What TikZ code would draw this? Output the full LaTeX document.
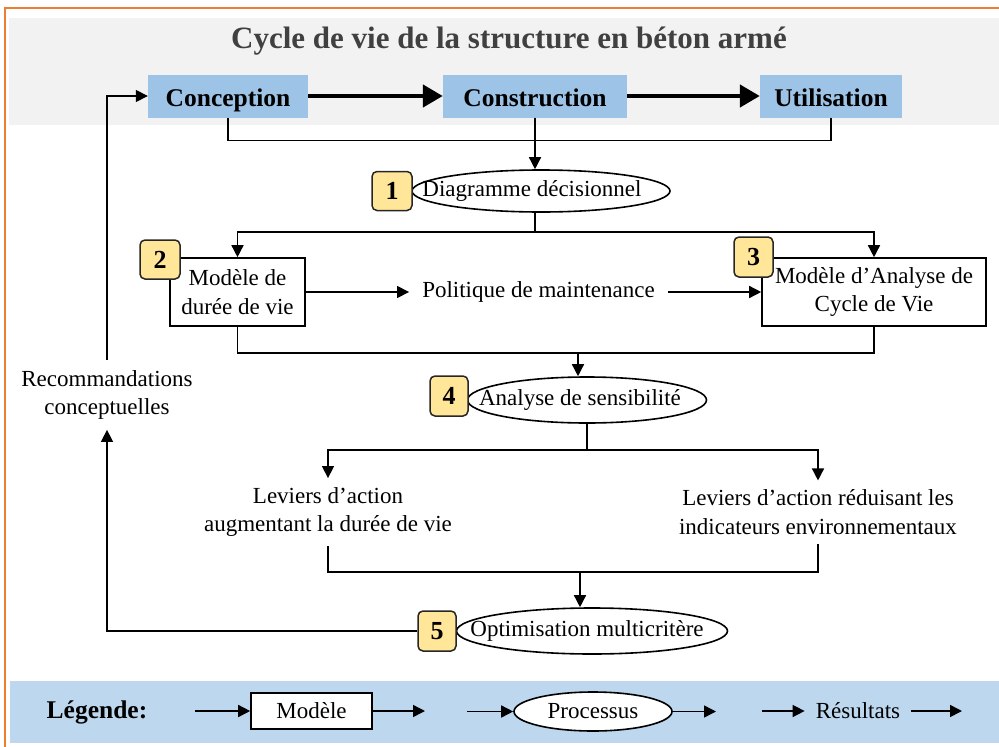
\documentclass[tikz,border=0pt]{standalone}
\usepackage{fontspec}
\setmainfont{Liberation Serif}
\usetikzlibrary{arrows.meta, positioning, shapes.geometric, calc}
\definecolor{framecol}{HTML}{ED7D31}
\definecolor{headgrey}{HTML}{F2F2F2}
\definecolor{phasecol}{HTML}{9DC3E6}
\definecolor{badgecol}{HTML}{FFE699}
\definecolor{legendcol}{HTML}{BDD7EE}
\definecolor{titlecol}{HTML}{404040}
\tikzset{
  txt/.style={font=\fontsize{23}{28.5}\selectfont, align=center},
  phase/.style={fill=phasecol, font=\fontsize{25.5}{30}\selectfont\bfseries,
    minimum height=43pt, inner sep=0pt, text height=21pt, text depth=1pt},
  model/.style={txt, draw, line width=1.6pt, fill=white, inner sep=0pt},
  process/.style={txt, ellipse, draw, line width=1.6pt, fill=white,
    inner xsep=-50pt, inner ysep=-10pt},
  badge/.style={draw=black!85, fill=badgecol, line width=1.5pt, rounded corners=5pt,
    font=\fontsize{26}{28}\selectfont\bfseries, inner sep=0pt},
  line/.style={line width=1.5pt},
  link/.style={line width=1.5pt, -{Triangle[length=12pt, width=12pt]}},
  bigarrow/.style={line width=4.5pt, -{Triangle[length=20pt, width=22pt]}}
}
\begin{document}
\begin{tikzpicture}[x=1pt, y=-1pt]
  \useasboundingbox (0,0) rectangle (999,747);
  \clip (0,0) rectangle (999,747);

  % frame, header band, legend band
  \draw[framecol, line width=2pt] (5,760) -- (5,8) -- (1010,8);
  \fill[headgrey] (9,18) rectangle (999,125);
  \fill[legendcol] (10,681) rectangle (999,743);

  % ===== life-cycle phases =====
  \node[font=\fontsize{31}{36}\selectfont\bfseries, text=titlecol] (title) at (509,41)
       {Cycle de vie de la structure en béton armé};
  \node[phase, minimum width=160pt] (concep) at (228,96) {Conception};
  \node[phase, minimum width=184pt] (constr) at (535,96) {Construction};
  \node[phase, minimum width=142pt] (util) at (831,96) {Utilisation};
  \draw[bigarrow] (concep) -- (constr);
  \draw[bigarrow] (constr) -- (util);

  % ===== decision diagram =====
  \node[process, minimum width=258pt, minimum height=42pt] (diag) at (541,191)
       {\hspace*{-18pt}Diagramme décisionnel};
  \node[badge, minimum width=40pt, minimum height=39pt] (b1) at (392,191) {1};
  \draw[line] (concep.south) -- ++(0,23) -| (util.south);
  \draw[link] (constr.south) -- (constr.south |- diag.north);

  % ===== models =====
  \node[model, minimum width=135pt, minimum height=68pt] (life) at (237.5,292)
       {Modèle de\\durée de vie};
  \node[model, minimum width=224pt, minimum height=68pt] (lca) at (874,292)
       {Modèle d’Analyse de\\Cycle de Vie};
  \node[badge, minimum width=40pt, minimum height=39pt] (b2) at (160,259.5) {2};
  \node[badge, minimum width=39pt, minimum height=40pt] (b3) at (753.5,257) {3};
  \node[txt, inner xsep=13pt] (maint) at (538.5,292) {Politique de maintenance};
  \coordinate (split1) at ($(diag.south)+(-6,19)$);
  \draw[line] (diag.south -| split1) -- (split1);
  \draw[link] (split1) -| (life.north);
  \draw[link] (split1) -| (lca.north);
  \draw[link] (life.east) -- (maint.west);
  \draw[link] (maint.east) -- (lca.west);

  % ===== sensitivity analysis =====
  \node[process, minimum width=239pt, minimum height=46pt] (sens) at (587,400)
       {\hspace*{-14pt}Analyse de sensibilité};
  \node[badge, minimum width=38pt, minimum height=40pt] (b4) at (449,396) {4};
  \draw[line] (life.south) -- ++(0,26) coordinate (join1) -| (lca.south);
  \coordinate (drop1) at (578,352);
  \draw[link] (drop1) -- (drop1 |- sens.north);

  % ===== action levers =====
  \node[txt, inner ysep=9pt] (levlife) at (328,512)
       {Leviers d’action\\augmentant la durée de vie};
  \node[txt, inner ysep=9pt] (levenv) at (818,512)
       {Leviers d’action réduisant les\\indicateurs environnementaux};
  \draw[line] (sens.south) -- ++(0,26) coordinate (split2);
  \draw[link] (split2) -| (levlife.north);
  \draw[link] (split2) -| (levenv.north);

  % ===== optimisation =====
  \node[process, minimum width=271pt, minimum height=46pt] (optim) at (592,631)
       {\hspace*{-10pt}Optimisation multicritère};
  \node[badge, minimum width=38pt, minimum height=40pt] (b5) at (437,631) {5};
  \draw[line] (levlife.south) -- ++(0,26) -| (levenv.south);
  \coordinate (drop2) at (580,571);
  \draw[link] (drop2) -- (drop2 |- optim.north);

  % ===== feedback to design =====
  \node[txt, inner ysep=10pt] (recom) at (107,395) {Recommandations\\conceptuelles};
  \draw[link] (b5.west) -| (recom.south);
  \draw[link] (recom.north) |- (concep.west);

  % ===== legend =====
  \node[font=\fontsize{25.5}{30}\selectfont\bfseries] (legtitle) at (97,712) {Légende:};
  \node[model, minimum width=121pt, minimum height=36pt] (legmodel) at (311.5,711) {Modèle};
  \node[process, minimum width=158pt, minimum height=39pt] (legproc) at (593,711.5) {Processus};
  \node[txt, inner xsep=11pt] (legres) at (858,711) {Résultats};
  \coordinate (lm0) at (195,711);
  \coordinate (lm1) at (425,711);
  \coordinate (lp0) at (467,711.5);
  \coordinate (lp1) at (716,711.5);
  \coordinate (lr0) at (762,711);
  \coordinate (lr1) at (962,711);
  \draw[link] (lm0) -- (legmodel.west);
  \draw[link] (legmodel.east) -- (lm1);
  \draw[link] (lp0) -- (legproc.west);
  \draw[link] (legproc.east) -- (lp1);
  \draw[link] (lr0) -- (legres.west);
  \draw[link] (legres.east) -- (lr1);
\end{tikzpicture}
\end{document}
